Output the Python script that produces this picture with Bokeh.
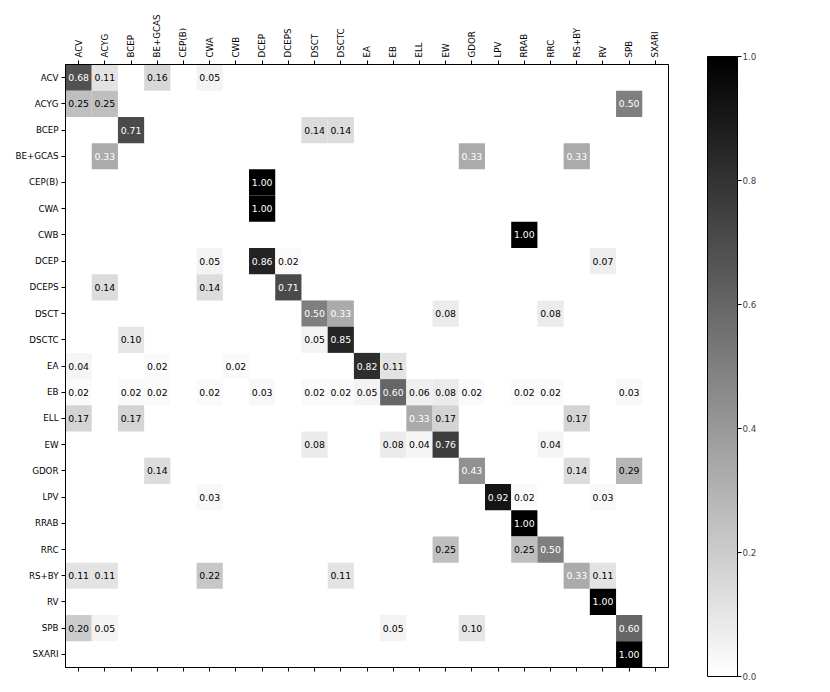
from bokeh.plotting import figure
from bokeh.models import (ColumnDataSource, FactorRange, CategoricalAxis, LinearColorMapper,
                          ColorBar, FixedTicker, PrintfTickFormatter, CustomJSTickFormatter)
from bokeh.core.properties import value
from bokeh.embed import file_html
from bokeh.resources import INLINE

classes = ["ACV", "ACYG", "BCEP", "BE+GCAS", "CEP(B)", "CWA", "CWB", "DCEP", "DCEPS",
           "DSCT", "DSCTC", "EA", "EB", "ELL", "EW", "GDOR", "LPV", "RRAB", "RRC",
           "RS+BY", "RV", "SPB", "SXARI"]

true_class = (["ACV"] * 4 + ["ACYG"] * 3 + ["BCEP"] * 3 + ["BE+GCAS"] * 3 + ["CEP(B)"] + ["CWA"] + ["CWB"]
              + ["DCEP"] * 4 + ["DCEPS"] * 3 + ["DSCT"] * 4 + ["DSCTC"] * 3 + ["EA"] * 5 + ["EB"] * 15
              + ["ELL"] * 5 + ["EW"] * 5 + ["GDOR"] * 4 + ["LPV"] * 4 + ["RRAB"] + ["RRC"] * 3
              + ["RS+BY"] * 6 + ["RV"] + ["SPB"] * 5 + ["SXARI"])

pred_class = ["ACV", "ACYG", "BE+GCAS", "CWA",
              "ACV", "ACYG", "SPB",
              "BCEP", "DSCT", "DSCTC",
              "ACYG", "GDOR", "RS+BY",
              "DCEP",
              "DCEP",
              "RRAB",
              "CWA", "DCEP", "DCEPS", "RV",
              "ACYG", "CWA", "DCEPS",
              "DSCT", "DSCTC", "EW", "RRC",
              "BCEP", "DSCT", "DSCTC",
              "ACV", "BE+GCAS", "CWB", "EA", "EB",
              "ACV", "BCEP", "BE+GCAS", "CWA", "DCEP", "DSCT", "DSCTC", "EA", "EB", "ELL", "EW",
              "GDOR", "RRAB", "RRC", "SPB",
              "ACV", "BCEP", "ELL", "EW", "RS+BY",
              "DSCT", "EB", "ELL", "EW", "RRC",
              "BE+GCAS", "GDOR", "RS+BY", "SPB",
              "CWA", "LPV", "RRAB", "RV",
              "RRAB",
              "EW", "RRAB", "RRC",
              "ACV", "ACYG", "CWA", "DSCTC", "RS+BY", "RV",
              "RV",
              "ACV", "ACYG", "EB", "GDOR", "SPB",
              "SPB"]

fraction = [0.68, 0.11, 0.16, 0.05,
            0.25, 0.25, 0.50,
            0.71, 0.14, 0.14,
            0.33, 0.33, 0.33,
            1.00,
            1.00,
            1.00,
            0.05, 0.86, 0.02, 0.07,
            0.14, 0.14, 0.71,
            0.50, 0.33, 0.08, 0.08,
            0.10, 0.05, 0.85,
            0.04, 0.02, 0.02, 0.82, 0.11,
            0.02, 0.02, 0.02, 0.02, 0.03, 0.02, 0.02, 0.05, 0.60, 0.06, 0.08,
            0.02, 0.02, 0.02, 0.03,
            0.17, 0.17, 0.33, 0.17, 0.17,
            0.08, 0.08, 0.04, 0.76, 0.04,
            0.14, 0.43, 0.14, 0.29,
            0.03, 0.92, 0.02, 0.03,
            1.00,
            0.25, 0.25, 0.50,
            0.11, 0.11, 0.22, 0.11, 0.33, 0.11,
            1.00,
            0.20, 0.05, 0.05, 0.10, 0.60,
            1.00]

colorbar_ticks = [0.0, 0.2, 0.4, 0.6, 0.8, 1.0]

FONT = value("DejaVu Sans")
palette = ["#%02x%02x%02x" % (255 - i, 255 - i, 255 - i) for i in range(256)]
mapper = LinearColorMapper(palette=palette, low=0.0, high=1.0)

src = ColumnDataSource(dict(
    pred=pred_class,
    true=true_class,
    val=fraction,
    label=["%.2f" % v for v in fraction],
    tc=["white" if v > 0.3 else "black" for v in fraction],
))

p = figure(x_range=FactorRange(factors=classes), y_range=FactorRange(factors=classes[::-1]),
           frame_width=603, frame_height=603,
           min_border_left=65, min_border_top=64, min_border_right=110, min_border_bottom=18,
           x_axis_location="above", toolbar_location=None, tools="", output_backend="svg")

p.rect(x="pred", y="true", width=1, height=1, source=src,
       fill_color={"field": "val", "transform": mapper}, line_color=None)
p.text(x="pred", y="true", text="label", source=src, text_align="center", text_baseline="middle",
       text_color="tc", text_font_size="9.3px", text_font=FONT)

bottom_axis = CategoricalAxis(formatter=CustomJSTickFormatter(code="return '';"))
p.add_layout(bottom_axis, "below")

for ax in p.axis:
    ax.axis_line_color = "black"
    ax.axis_line_width = 1
    ax.major_tick_line_color = "black"
    ax.major_tick_in = 0
    ax.major_tick_out = 4
    ax.major_label_standoff = 3
    ax.major_label_text_font = "DejaVu Sans"
    ax.major_label_text_color = "black"
    ax.major_label_text_font_size = "8.7px"
p.xaxis[0].major_label_orientation = "vertical"
p.xgrid.visible = False
p.ygrid.visible = False
p.outline_line_color = "black"
p.outline_line_width = 1

color_bar = ColorBar(color_mapper=mapper, ticker=FixedTicker(ticks=colorbar_ticks),
                     formatter=PrintfTickFormatter(format="%.1f"),
                     width=30, height=620, padding=0, margin=0, location=(642, -9),
                     major_tick_in=0, major_tick_out=4, major_tick_line_color="black",
                     bar_line_color="black", bar_line_width=1,
                     label_standoff=1, major_label_text_font_size="8.7px",
                     major_label_text_font="DejaVu Sans",
                     background_fill_color=None, border_line_color=None)
p.add_layout(color_bar, "center")

open("out.html", "w").write(file_html(p, INLINE))
